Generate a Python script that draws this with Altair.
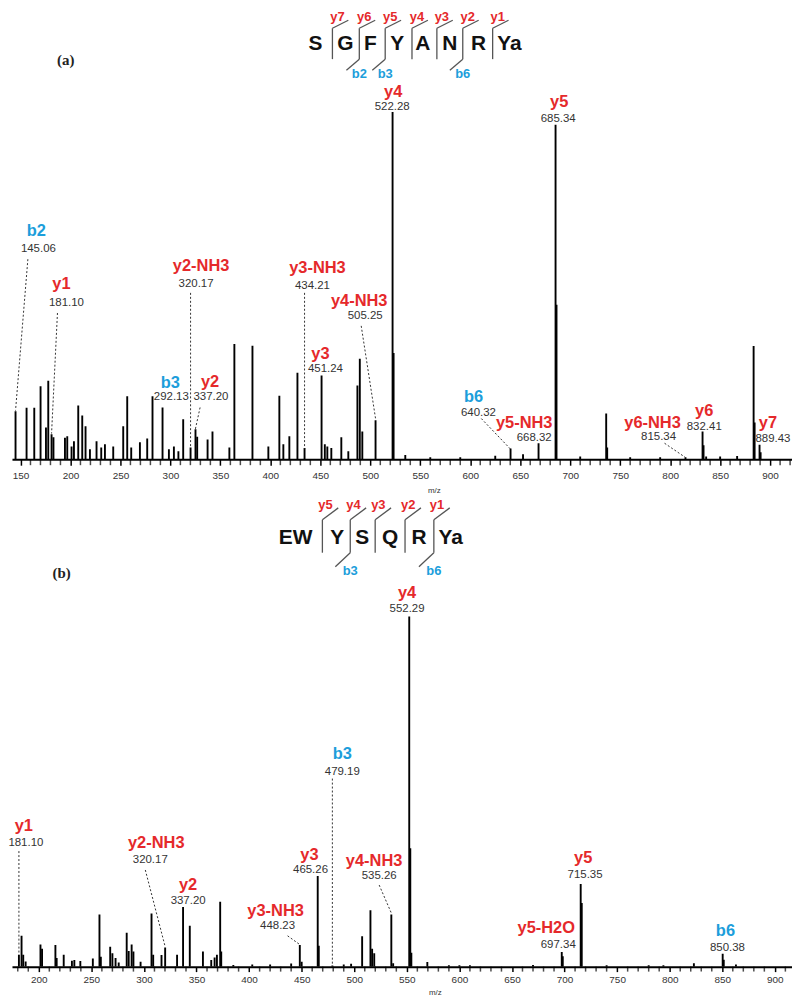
import altair as alt
import pandas as pd

SANS = "Liberation Sans"
SERIF = "Liberation Serif"
RED = "#e5292b"
BLUE = "#1c9edb"

# ---------------- Panel (a) peaks: m/z and relative intensity (%) ----------------
a_mz = [145.06, 156.1, 163.8, 170.1, 175.5, 177.8, 181.1, 183.0, 194.5, 196.8, 201.1, 203.5,
        207.8, 211.8, 215.1, 219.5, 226.1, 230.8, 234.5, 242.8, 252.8, 256.8, 260.8, 269.5,
        276.8, 282.1, 292.13, 298.5, 303.5, 308.0, 312.8, 320.17, 325.1, 326.8, 337.2, 342.1,
        359.0, 364.0, 382.1, 398.0, 409.0, 413.0, 419.0, 427.1, 434.21, 451.24, 454.5, 457.0,
        461.0, 471.0, 478.0, 487.1, 489.5, 492.0, 505.25, 522.28, 523.3, 535.0, 560.0, 590.0,
        625.0, 640.32, 652.8, 668.32, 685.34, 686.3, 710.0, 736.0, 737.0, 760.0, 790.0, 815.34,
        832.41, 833.4, 836.0, 850.0, 867.0, 883.5, 884.5, 889.43, 890.5]
a_int = [13.8, 14.8, 14.8, 21.0, 9.1, 22.6, 7.2, 6.3, 6.2, 6.6, 3.7, 5.2,
         15.5, 12.6, 9.5, 2.9, 5.2, 3.4, 4.3, 3.7, 9.5, 18.1, 3.4, 4.9,
         6.0, 18.1, 14.9, 2.9, 3.7, 2.3, 11.5, 3.4, 8.6, 6.5, 5.7, 8.0,
         3.4, 33.2, 32.7, 3.7, 18.3, 4.3, 6.6, 24.9, 3.2, 24.1, 4.3, 3.7,
         3.2, 6.3, 2.3, 21.2, 28.9, 8.0, 11.2, 100.0, 30.6, 1.2, 0.6, 0.6,
         1.0, 3.1, 1.4, 4.6, 96.3, 44.5, 0.8, 13.2, 3.4, 0.6, 0.6, 0.6,
         8.0, 4.0, 0.8, 0.8, 0.9, 32.6, 10.6, 4.2, 2.0]

# ---------------- Panel (b) peaks ----------------
b_mz = [181.1, 183.6, 185.2, 187.5, 201.6, 203.1, 215.8, 217.0, 223.7, 231.5, 233.8, 239.5,
        251.4, 257.7, 259.0, 267.9, 270.0, 273.0, 276.0, 283.6, 285.5, 288.3, 290.0, 296.8,
        307.2, 308.8, 316.7, 320.17, 331.5, 337.2, 343.6, 356.1, 364.0, 367.2, 369.4, 372.5,
        373.5, 385.0, 403.0, 420.0, 440.0, 448.23, 450.0, 465.26, 466.26, 479.19, 490.0, 497.0,
        507.5, 515.4, 517.0, 519.0, 535.26, 537.0, 552.29, 553.3, 554.3, 569.5, 590.0, 600.0,
        610.0, 670.0, 697.34, 698.3, 715.35, 716.35, 740.0, 780.0, 794.0, 823.0, 850.38, 851.4,
        863.0]
b_int = [3.4, 8.8, 3.4, 1.5, 6.3, 5.1, 6.2, 2.5, 3.4, 1.7, 1.9, 1.6,
         2.3, 14.9, 2.8, 5.7, 3.8, 2.5, 1.2, 9.7, 4.5, 6.3, 4.3, 1.4,
         15.2, 3.4, 3.3, 5.5, 3.4, 17.0, 11.7, 4.3, 1.9, 2.6, 3.4, 18.5,
         4.3, 0.5, 0.6, 0.6, 0.9, 6.2, 1.4, 25.9, 6.0, 0.3, 0.6, 0.8,
         8.7, 16.1, 5.1, 3.8, 14.9, 1.0, 100.0, 33.8, 4.0, 1.3, 0.4, 0.4,
         0.4, 0.5, 4.2, 3.0, 23.6, 18.2, 0.4, 0.4, 0.4, 1.0, 3.7, 2.0,
         0.6]

# ---------------- Panel (a) annotations ----------------
a_ion = ["b2", "y1", "y2-NH3", "b3", "y2", "y3-NH3", "y4-NH3", "y3", "y4", "y5", "b6",
         "y5-NH3", "y6-NH3", "y6", "y7"]
a_val = ["145.06", "181.10", "320.17", "292.13", "337.20", "434.21", "505.25", "451.24",
         "522.28", "685.34", "640.32", "668.32", "815.34", "832.41", "889.43"]
a_type = ["b", "y", "y", "b", "y", "y", "y", "y", "y", "y", "b", "y", "y", "y", "y"]
a_lab_mz = [165.9, 191.0, 330.7, 299.9, 339.7, 447.1, 488.9, 450.1, 522.9, 689.0, 603.2,
            654.0, 782.4, 834.1, 897.8]
a_lab_int = [65.6, 50.4, 55.6, 21.8, 22.1, 55.0, 45.6, 30.4, 105.8, 102.9, 17.8, 10.3, 10.3,
             14.0, 10.3]
a_val_mz = [167.9, 196.0, 325.7, 300.9, 340.6, 442.1, 494.9, 455.1, 521.9, 688.0, 608.2,
            664.0, 788.4, 834.1, 902.8]
a_val_int = [60.5, 45.0, 50.4, 17.8, 17.8, 49.9, 41.3, 26.1, 101.4, 98.0, 13.2, 6.0, 6.3,
             9.2, 5.7]
a_lead_mz = [157.4, 187.0, 320.17, 329.7, 434.21, 490.9, 611.1, 794.4]
a_lead_int = [57.6, 42.1, 47.9, 14.9, 47.9, 38.4, 11.7, 4.6]
a_lead_mz2 = [145.06, 181.1, 320.17, 324.7, 434.21, 505.25, 640.32, 815.34]
a_lead_int2 = [14.0, 7.4, 3.4, 8.3, 3.1, 11.7, 2.9, 0.5]

a_seq = ["S", "G", "F", "Y", "A", "N", "R", "Ya"]
a_seq_mz = [445.1, 475.0, 500.0, 526.9, 552.6, 579.5, 608.4, 639.3]
a_cut_mz = [462.1, 489.0, 514.9, 541.7, 566.6, 592.5, 622.4]
a_cut_y = ["y7", "y6", "y5", "y4", "y3", "y2", "y1"]
a_cut_b = ["", "b2", "b3", "", "", "b6", ""]

# ---------------- Panel (b) annotations ----------------
b_ion = ["y1", "y2-NH3", "y2", "y3-NH3", "y3", "b3", "y4-NH3", "y4", "y5-H2O", "y5", "b6"]
b_val = ["181.10", "320.17", "337.20", "448.23", "465.26", "479.19", "535.26", "552.29",
         "697.34", "715.35", "850.38"]
b_type = ["y", "y", "y", "y", "y", "b", "y", "y", "y", "y", "b"]
b_lab_mz = [185.8, 311.7, 342.0, 425.2, 457.4, 488.6, 518.9, 550.2, 682.6, 717.7, 853.0]
b_lab_int = [40.1, 35.2, 23.3, 15.9, 31.8, 60.8, 30.1, 106.8, 11.1, 31.0, 10.2]
b_val_mz = [187.7, 306.0, 342.0, 427.1, 458.4, 488.6, 523.7, 550.2, 694.0, 719.5, 854.9]
b_val_int = [35.2, 30.4, 18.8, 11.6, 27.6, 55.7, 25.9, 102.0, 6.3, 26.1, 5.4]
b_lead_mz = [181.1, 301.3, 436.6, 479.19, 523.7]
b_lead_int = [33.0, 27.6, 8.8, 53.7, 23.3]
b_lead_mz2 = [181.1, 320.17, 448.23, 479.19, 535.26]
b_lead_int2 = [3.4, 5.7, 6.3, 0.3, 15.3]

b_seq = ["EW", "Y", "S", "Q", "R", "Ya"]
b_seq_mz = [444.2, 483.9, 507.6, 534.1, 561.5, 591.8]
b_cut_mz = [469.7, 496.2, 519.9, 548.3, 575.7]
b_cut_y = ["y5", "y4", "y3", "y2", "y1"]
b_cut_b = ["", "b3", "", "", "b6"]


def build_panel(mz, inten, ion, val, typ, lab_mz, lab_int, val_mz, val_int,
                lead_mz, lead_int, lead_mz2, lead_int2,
                seq, seq_mz, seq_int, cut_mz, cut_y, cut_b, geom,
                panel_text, panel_mz, panel_int,
                xdom, ydom, height, label_vals, minor_vals, tick_size, label_pad,
                title_x, title_y):
    xs = alt.Scale(domain=xdom, nice=False, zero=False)
    ys = alt.Scale(domain=ydom, nice=False, zero=False)
    color_scale = alt.Scale(domain=["y", "b"], range=[RED, BLUE])

    peaks = pd.DataFrame({"mz": mz, "int": inten, "base": [0.0] * len(mz)})
    ann = pd.DataFrame({"ion": ion, "val": val, "type": typ, "mz": lab_mz, "int": lab_int,
                        "vmz": val_mz, "vint": val_int})
    lead = pd.DataFrame({"mz": lead_mz, "int": lead_int, "mz2": lead_mz2, "int2": lead_int2})
    seqdf = pd.DataFrame({"aa": seq, "mz": seq_mz, "int": [seq_int] * len(seq)})

    # cleavage marker segments
    v_top, v_bot, d_top_dx, d_top, d_bot_dx, d_bot, ylab_dx, ylab_int, blab_int = geom
    segs = []
    labs = []
    for m, yl, bl in zip(cut_mz, cut_y, cut_b):
        segs.append({"mz": m, "int": v_top, "mz2": m, "int2": v_bot})
        segs.append({"mz": m, "int": v_top, "mz2": m + d_top_dx, "int2": d_top})
        labs.append({"t": yl, "type": "y", "mz": m + ylab_dx, "int": ylab_int})
        if bl:
            segs.append({"mz": m, "int": v_bot, "mz2": m - d_bot_dx, "int2": d_bot})
            labs.append({"t": bl, "type": "b", "mz": m, "int": blab_int})
    segdf = pd.DataFrame(segs)
    labdf = pd.DataFrame(labs)
    pdf = pd.DataFrame({"t": [panel_text], "mz": [panel_mz], "int": [panel_int]})
    minor = pd.DataFrame({"mz": minor_vals, "int": [0.0] * len(minor_vals)})

    label_axis = alt.Axis(values=label_vals, format="d", grid=False,
                          domainColor="black", domainWidth=2,
                          ticks=True, tickColor="black", tickWidth=1.5, tickSize=tick_size,
                          labelPadding=label_pad, labelFont=SANS, labelFontSize=10,
                          labelOverlap=False, labelColor="#333", title="m/z",
                          titleFont=SANS, titleFontSize=8, titleFontWeight="normal",
                          titleColor="#333", titleX=title_x, titleY=title_y,
                          titleBaseline="middle", titleAlign="center", labelFlush=False)

    x = alt.X("mz:Q", scale=xs)
    y = alt.Y("int:Q", scale=ys, axis=None)

    bars = alt.Chart(peaks).mark_rule(color="black", strokeWidth=1.9, clip=True).encode(
        x=alt.X("mz:Q", scale=xs, axis=label_axis), y=y, y2="base:Q")
    minor_ticks = alt.Chart(minor).mark_tick(color="black", orient="vertical",
                                             size=tick_size, thickness=1.5,
                                             yOffset=tick_size / 2).encode(x=x, y=y)
    leaders = alt.Chart(lead).mark_rule(color="#333", strokeWidth=1, strokeDash=[2, 2]).encode(
        x=x, y=y, x2="mz2:Q", y2="int2:Q")
    ion_txt = alt.Chart(ann).mark_text(font=SANS, fontSize=16.5, fontWeight="bold",
                                       baseline="middle").encode(
        x=x, y=y, text="ion:N", color=alt.Color("type:N", scale=color_scale, legend=None))
    val_txt = alt.Chart(ann).mark_text(font=SANS, fontSize=11.5, color="#333",
                                       baseline="middle").encode(
        x=alt.X("vmz:Q", scale=xs), y=alt.Y("vint:Q", scale=ys, axis=None), text="val:N")
    seq_txt = alt.Chart(seqdf).mark_text(font=SANS, fontSize=21, fontWeight="bold",
                                         color="#111", baseline="middle").encode(
        x=x, y=y, text="aa:N")
    seg_rules = alt.Chart(segdf).mark_rule(color="#555", strokeWidth=1.3).encode(
        x=x, y=y, x2="mz2:Q", y2="int2:Q")
    cut_txt = alt.Chart(labdf).mark_text(font=SANS, fontSize=13, fontWeight="bold",
                                         baseline="middle").encode(
        x=x, y=y, text="t:N", color=alt.Color("type:N", scale=color_scale, legend=None))
    pan_txt = alt.Chart(pdf).mark_text(font=SERIF, fontSize=15, fontWeight="bold",
                                       color="#222", baseline="middle").encode(
        x=x, y=y, text="t:N")

    return alt.layer(bars, minor_ticks, leaders, seg_rules, seq_txt, cut_txt, ion_txt,
                     val_txt, pan_txt).properties(width=784, height=height)


# geometry (in data units) for cleavage markers: v_top, v_bot, top dx, top int,
# bottom dx, bottom int, y-label dx, y-label int, b-label int
a_geom = (124.1, 115.2, 15.9, 126.4, 12.9, 112.0, 5.0, 127.4, 110.8)
b_geom = (127.6, 118.2, 15.1, 131.0, 14.2, 114.2, 3.0, 131.8, 113.1)

a_labels = list(range(150, 901, 50))
a_minor = [v for v in range(150, 921, 10) if v % 50 != 0]
b_labels = list(range(200, 901, 50))
b_minor = [v for v in range(180, 916, 10) if v % 50 != 0]

panel_a = build_panel(a_mz, a_int, a_ion, a_val, a_type, a_lab_mz, a_lab_int, a_val_mz,
                      a_val_int, a_lead_mz, a_lead_int, a_lead_mz2, a_lead_int2,
                      a_seq, a_seq_mz, 119.5, a_cut_mz, a_cut_y, a_cut_b, a_geom,
                      "(a)", 195.3, 114.9,
                      [141.5, 921.9], [0, 129.2], 451, a_labels, a_minor,
                      6, 5, 424, 31)
panel_b = build_panel(b_mz, b_int, b_ion, b_val, b_type, b_lab_mz, b_lab_int, b_val_mz,
                      b_val_int, b_lead_mz, b_lead_int, b_lead_mz2, b_lead_int2,
                      b_seq, b_seq_mz, 122.4, b_cut_mz, b_cut_y, b_cut_b, b_geom,
                      "(b)", 221.8, 112.5,
                      [174.5, 916.3], [0, 134.1], 472, b_labels, b_minor,
                      5, 3, 425, 26)

chart = alt.vconcat(panel_a, panel_b, spacing=3).properties(padding=0).configure_view(
    stroke=None).configure_concat(spacing=3)

chart.save("out.html", embed_options={"renderer": "svg", "actions": False})
